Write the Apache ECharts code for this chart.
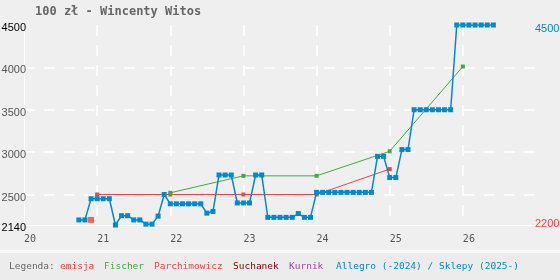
<!DOCTYPE html>
<html>
<head>
<meta charset="utf-8">
<script src="https://cdn.jsdelivr.net/npm/echarts@6/dist/echarts.min.js"></script>
<style>html,body{margin:0;padding:0;background:#efefef;}#c{width:560px;height:280px;}</style>
</head>
<body>
<div id="c"></div>
<script>
// ---- data ----
const titleText = '100 zł - Wincenty Witos';
const xTicks = [20, 21, 22, 23, 24, 25, 26];
const yLeftTicks = [2140, 2500, 3000, 3500, 4000, 4500];
const yRightTicks = [2200, 4500];
// Allegro / Sklepy: monthly prices starting 2020-10
const allegroStart = [2020, 10];
const allegroValues = [
  2200, 2200, 2450,
  2450, 2450, 2450, 2140, 2250, 2250, 2200, 2200, 2150, 2150, 2245, 2500,
  2390, 2390, 2390, 2390, 2390, 2390, 2280, 2300, 2730, 2730, 2730, 2400,
  2400, 2400, 2730, 2730, 2230, 2230, 2230, 2230, 2230, 2275, 2230, 2230,
  2525, 2525, 2525, 2525, 2525, 2525, 2525, 2525, 2525, 2525, 2950, 2950,
  2700, 2700, 3030, 3030, 3500, 3500, 3500, 3500, 3500, 3500, 3500, 4500,
  4500, 4500, 4500, 4500, 4500, 4500
];
const parchX = [21, 22, 23, 24, 25];
const parchValues = [2500, 2500, 2500, 2500, 2800];
const fischerX = [22, 23, 24, 25, 26];
const fischerValues = [2520, 2720, 2720, 3010, 4010];
const emisjaX = [20 + 11 / 12];
const emisjaValues = [2200];
const legendItems = [
  ['Legenda:', '#666666'],
  ['emisja', '#ee4444'],
  ['Fischer', '#44aa44'],
  ['Parchimowicz', '#ee4444'],
  ['Suchanek', '#880000'],
  ['Kurnik', '#aa44aa'],
  ['Allegro (-2024) / Sklepy (2025-)', '#0088cc']
];

// ---- build ----
const allegroData = allegroValues.map((v, i) => {
  const m = allegroStart[1] - 1 + i;
  const yr = allegroStart[0] + Math.floor(m / 12) - 2000;
  return [yr + (m % 12) / 12, v];
});
const zip = (xs, ys) => xs.map((x, i) => [x, ys[i]]);

const BLUE = '#0088cc', RED = '#ee4444', GREEN = '#44aa44';
const mono = '"DejaVu Sans Mono", "Liberation Mono", monospace';
const sans = '"Liberation Sans", Arial, sans-serif';

const legendX = [9, 60, 104, 154, 233, 289, 336];
const graphics = [
  { type: 'rect', shape: { x: 0, y: 250, width: 560, height: 3 }, style: { fill: '#f7f7f7' }, silent: true },
  { type: 'rect', shape: { x: 0, y: 253, width: 560, height: 27 }, style: { fill: '#ececec' }, silent: true }
];
legendItems.forEach((it, i) => {
  graphics.push({
    type: 'text', left: legendX[i], top: 262,
    style: { text: it[0], fill: it[1], font: '9.5px ' + mono }
  });
});

const chart = echarts.init(document.getElementById('c'), null, { renderer: 'canvas' });
chart.setOption({
  backgroundColor: '#efefef',
  animation: false,
  title: {
    text: titleText, left: 35, top: 6, padding: 0,
    textStyle: { fontFamily: mono, fontSize: 12, fontWeight: 'bold', color: '#666666' }
  },
  grid: { left: 24, right: 24, top: 25, bottom: 55, containLabel: false, outerBoundsMode: 'none' },
  xAxis: {
    type: 'value', min: 20, max: 27,
    axisLine: { show: true, lineStyle: { color: '#ffffff', width: 1 } },
    axisTick: { show: false, customValues: xTicks.slice(1) },
    axisLabel: {
      customValues: xTicks, align: 'left', margin: 9,
      fontFamily: mono, fontSize: 10, color: '#555555',
      formatter: v => String(v)
    },
    splitLine: { show: true, lineStyle: { color: '#ffffff', type: [11, 9], width: 1.5 } }
  },
  yAxis: [{
    type: 'value', min: 2140, max: 4500, position: 'left',
    axisLine: { show: true, lineStyle: { color: '#ffffff', width: 1 } },
    axisTick: { show: false, customValues: [2500, 3000, 3500, 4000] },
    axisLabel: {
      customValues: yLeftTicks, margin: -2, padding: [6, 0, 0, 0],
      fontFamily: sans, fontSize: 11,
      formatter: v => (v === 2140 || v === 4500) ? '{b|' + v + '}' : '{g|' + v + '}',
      rich: { b: { color: '#000000', fontFamily: sans, fontSize: 11 }, g: { color: '#555555', fontFamily: sans, fontSize: 11 } }
    },
    splitLine: { show: true, lineStyle: { color: '#ffffff', type: [11, 9], width: 1.5 } }
  }, {
    type: 'value', min: 2140, max: 4500, position: 'right',
    axisLine: { show: false }, axisTick: { show: false }, splitLine: { show: false },
    axisLabel: {
      customValues: [2140, 4500], margin: -1, align: 'left',
      fontFamily: sans, fontSize: 11,
      formatter: v => v === 2140 ? '{r|' + yRightTicks[0] + '}' : '{bl|' + yRightTicks[1] + '}',
      rich: { r: { color: RED, fontFamily: sans, fontSize: 11, padding: [0, 0, 3, 0] }, bl: { color: BLUE, fontFamily: sans, fontSize: 11, padding: [8, 0, 0, 0] } }
    }
  }],
  graphic: graphics,
  series: [
    {
      name: 'Parchimowicz', type: 'line', data: zip(parchX, parchValues),
      symbol: 'rect', symbolSize: 4, lineStyle: { color: RED, width: 1 }, itemStyle: { color: RED }, z: 2
    },
    {
      name: 'Fischer', type: 'line', data: zip(fischerX, fischerValues),
      symbol: 'rect', symbolSize: 4, lineStyle: { color: GREEN, width: 1 }, itemStyle: { color: GREEN }, z: 2
    },
    {
      name: 'Allegro', type: 'line', data: allegroData,
      symbol: 'rect', symbolSize: 5, lineStyle: { color: BLUE, width: 1.5 }, itemStyle: { color: BLUE }, z: 3
    },
    {
      name: 'emisja', type: 'scatter', data: zip(emisjaX, emisjaValues),
      symbol: 'rect', symbolSize: 6, itemStyle: { color: RED }, z: 4
    }
  ]
});
</script>
</body>
</html>
